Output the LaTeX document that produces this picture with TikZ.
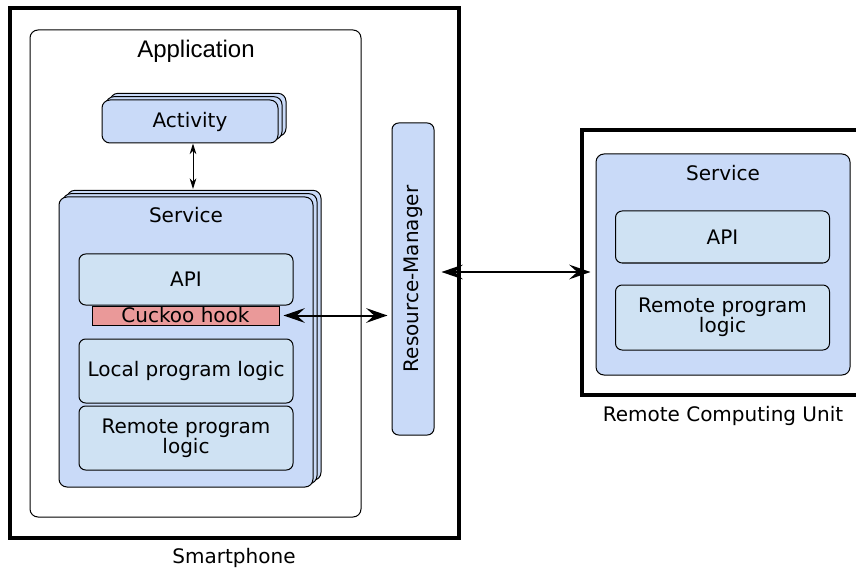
\documentclass[tikz,border=0pt]{standalone}
\usepackage{fontspec}
\setmainfont{DejaVu Sans}
\newfontfamily\appfont{Liberation Sans}
\usetikzlibrary{positioning,shadows,arrows.meta}

\definecolor{svcblue}{HTML}{C9DAF8}
\definecolor{apiblue}{HTML}{CFE2F3}
\definecolor{hookred}{HTML}{EA9999}

\tikzset{
  txt/.style={font=\fontsize{15}{15}\selectfont, inner sep=0pt, align=center},
  frame/.style={draw, line width=3.25pt, inner sep=0pt},
  panel/.style={draw, rounded corners=6pt, line width=0.75pt, inner sep=0pt},
  bluebox/.style={panel, fill=svcblue, txt},
  part/.style={panel, fill=apiblue, rounded corners=5pt, txt,
    minimum width=160.5pt, minimum height=48pt},
  copystack/.style={
    general shadow={shadow xshift=6pt, shadow yshift=5pt, draw=black, fill=svcblue},
    general shadow={shadow xshift=3pt, shadow yshift=2.5pt, draw=black, fill=svcblue}},
  thinarr/.style={{Stealth[length=8pt, width=5pt, inset=2.5pt]}-{Stealth[length=8pt, width=5pt, inset=2.5pt]},
    line width=0.75pt},
  bigarr/.style={{Stealth[length=16pt, width=11pt, inset=6pt]}-{Stealth[length=16pt, width=11pt, inset=6pt]},
    line width=1.5pt},
}

\begin{document}
\begin{tikzpicture}[x=0.75pt, y=-0.75pt]
\useasboundingbox (0,0) rectangle (856,570);

% Smartphone
\node[frame, minimum width=336.75pt, minimum height=397.5pt] (phone) at (234.5,273) {};
\node[txt] (phonelbl) at (234,558) {Smartphone};

\node[panel, minimum width=248.25pt, minimum height=365.25pt] (app) at (195.5,273.5) {};
\node[txt, font=\appfont\fontsize{18}{20}\selectfont] (applbl) at (196,51) {Application};

\node[bluebox, copystack, minimum width=132pt, minimum height=32.25pt] (act) at (190,121.5) {Activity};

% local service
\node[bluebox, copystack, minimum width=190.5pt, minimum height=217.5pt] (svcl) at (186,342) {};
\node[txt] (svcllbl) at (186,215.5) {Service};
\node[draw, fill=hookred, line width=0.75pt, txt, minimum width=140.25pt, minimum height=14.25pt] (hook) at (185.5,315.5) {Cuckoo hook};
\node[part, minimum height=38.25pt] (apil) at (186,279.5) {API};
\node[part] (local) at (186,371) {Local program logic};
\node[part] (remotel) at (186,438) {Remote program\\logic};

\node[bluebox, rotate=90, rounded corners=5pt, minimum width=234pt, minimum height=31.5pt] (rm) at (413,279) {Resource-Manager};

% Remote Computing Unit
\node[frame, minimum width=211.5pt, minimum height=198.75pt] (rcu) at (723,262.5) {};
\node[txt] (rculbl) at (723,416) {Remote Computing Unit};

\node[bluebox, minimum width=190.5pt, minimum height=165.75pt] (rsvc) at (723,264.5) {};
\node[txt] (rsvclbl) at (723,173.5) {Service};
\node[part, minimum height=39pt] (apir) at (722.5,237) {API};
\node[part, minimum height=48.75pt] (remoter) at (722.5,317.5) {Remote program\\logic};

% links
\coordinate (svctop) at (193,189);
\draw[thinarr] ([xshift=2.25pt]act.south) -- (svctop);

\draw[bigarr, shorten <=3pt, shorten >=3pt] (hook.east) -- (hook.east -| rm.north);

\coordinate (rmport) at ([yshift=5.25pt]rm.south);
\draw[bigarr, shorten <=5.25pt, shorten >=3.75pt] (rmport) -- (rmport -| rsvc.west);

\end{tikzpicture}
\end{document}
